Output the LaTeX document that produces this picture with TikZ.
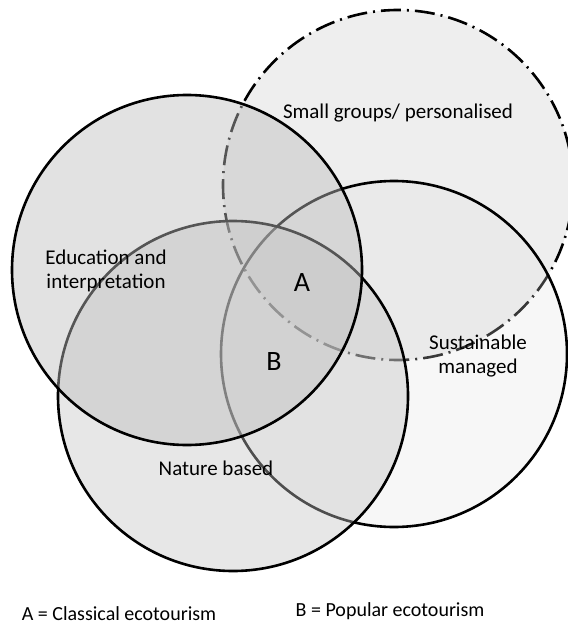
\documentclass[tikz,border=0pt]{standalone}
\usepackage{fontspec}
\setmainfont{Carlito}
\usepackage{tikz}
\usetikzlibrary{positioning}
\definecolor{vnedge}{RGB}{0,0,0}
\definecolor{vnedu}{RGB}{190,190,190}
\definecolor{vnnat}{RGB}{196,196,196}
\definecolor{vnsus}{RGB}{225,225,225}
\definecolor{vnsml}{RGB}{238,238,238}
\tikzset{
  ring/.style={
    circle, draw=vnedge, line width=2.6pt, inner sep=0pt,
    minimum size=350pt
  },
  edu/.style={ring, fill=vnedu, fill opacity=0.45},
  nat/.style={ring, fill=vnnat, fill opacity=0.4},
  sus/.style={ring, fill=vnsus, fill opacity=0.25, minimum size=346pt},
  sml/.style={ring, fill=vnsml, dash pattern=on 20pt off 6pt on 2pt off 6pt},
  lbl/.style={font=\fontsize{21}{24}\selectfont, align=center, inner sep=0pt},
  zone/.style={font=\fontsize{28}{30}\selectfont, inner sep=0pt},
  keytxt/.style={font=\fontsize{20}{24}\selectfont, inner sep=0pt}
}
\begin{document}
\begin{tikzpicture}[x=1pt, y=-1pt]
  \useasboundingbox (0,0) rectangle (567,628);
  % circles, lowest first
  \node[sml] (small) at (398,185) {};
  \node[sus] (sust) at (394,354) {};
  \node[nat] (nature) at (233,396) {};
  \node[edu] (educ) at (187,270) {};
  % circle labels
  \node[lbl] (smalltxt) at (398,113) {Small groups/ personalised};
  \node[lbl] (eductxt) at (106,271) {Education and\\interpretation};
  \node[lbl] (susttxt) at (478,356) {Sustainable\\managed};
  \node[lbl] (nattxt) at (216,468) {Nature based};
  % overlap zones
  \node[zone] (zonea) at (302,283) {A};
  \node[zone] (zoneb) at (274,362) {B};
  % key
  \node[keytxt] (keya) at (119,614) {A = Classical ecotourism};
  \node[keytxt] (keyb) at (390,611) {B = Popular ecotourism};
\end{tikzpicture}
\end{document}
